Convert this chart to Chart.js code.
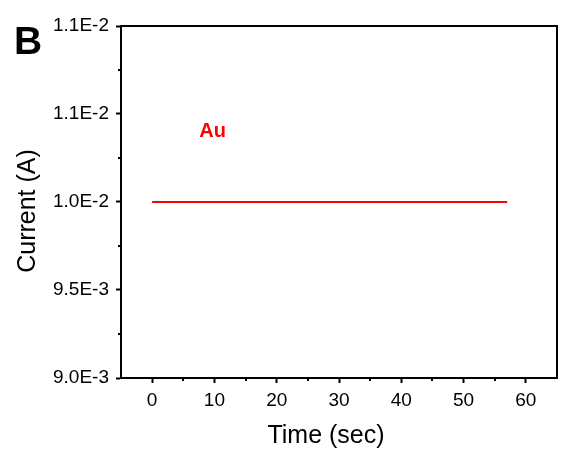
<!DOCTYPE html>
<html>
<head>
<meta charset="utf-8">
<script src="https://cdn.jsdelivr.net/npm/chart.js@4/dist/chart.umd.min.js"></script>
<style>
  body { margin: 0; background: #fff; }
  canvas { display: block; }
</style>
</head>
<body>
<canvas id="myChart" width="565" height="455"></canvas>
<script>
// Data
const timeSec = [0, 10, 20, 30, 40, 50, 57];
const currentA = [0.01, 0.01, 0.01, 0.01, 0.01, 0.01, 0.01];

// Axis ticks
const xTickValues = [0, 10, 20, 30, 40, 50, 60];
const xMinorTicks = [5, 15, 25, 35, 45, 55];
const yTickValues = [0.009, 0.0095, 0.01, 0.0105, 0.011];
const yTickLabels = ['9.0E-3', '9.5E-3', '1.0E-2', '1.1E-2', '1.1E-2'];
const yMinorTicks = [0.00925, 0.00975, 0.01025, 0.01075];

// Text label inside the plot
const seriesLabel = 'Au';
const seriesLabelX = 9.7;
const seriesLabelY = 0.0104;

const fontFamily = '"Liberation Sans", Arial, sans-serif';
Chart.defaults.font.family = fontFamily;
Chart.defaults.color = '#000';

// Frame, minor ticks, titles and labels
const extrasPlugin = {
  id: 'extras',
  afterDraw(chart) {
    const ctx = chart.ctx;
    const area = chart.chartArea;
    const xs = chart.scales.x;
    const ys = chart.scales.y;
    ctx.save();

    // top and right frame
    ctx.strokeStyle = '#000';
    ctx.lineWidth = 2;
    ctx.beginPath();
    ctx.moveTo(area.left - 1, area.top);
    ctx.lineTo(area.right, area.top);
    ctx.lineTo(area.right, area.bottom + 1);
    ctx.stroke();

    // minor ticks
    ctx.lineWidth = 2;
    ctx.beginPath();
    xMinorTicks.forEach(v => {
      const px = Math.round(xs.getPixelForValue(v));
      ctx.moveTo(px, area.bottom);
      ctx.lineTo(px, area.bottom + 3);
    });
    yMinorTicks.forEach(v => {
      const py = Math.round(ys.getPixelForValue(v));
      ctx.moveTo(area.left, py);
      ctx.lineTo(area.left - 3, py);
    });
    ctx.stroke();

    // axis titles
    ctx.fillStyle = '#000';
    ctx.font = '25px ' + fontFamily;
    ctx.textAlign = 'center';
    ctx.textBaseline = 'middle';
    ctx.fillText('Time (sec)', 326, 436);
    ctx.save();
    ctx.translate(28, 211);
    ctx.rotate(-Math.PI / 2);
    ctx.fillText('Current (A)', 0, 0);
    ctx.restore();

    // panel letter
    ctx.font = 'bold 39px ' + fontFamily;
    ctx.textAlign = 'left';
    ctx.fillText('B', 14, 43);

    // series label
    ctx.fillStyle = '#ff0000';
    ctx.font = 'bold 20px ' + fontFamily;
    ctx.textAlign = 'center';
    ctx.fillText(seriesLabel, xs.getPixelForValue(seriesLabelX), ys.getPixelForValue(seriesLabelY));

    ctx.restore();
  }
};

const canvas = document.getElementById('myChart');

const chartData = {
  datasets: [
    {
      label: 'Au',
      data: timeSec.map((t, i) => ({ x: t, y: currentA[i] })),
      borderColor: '#ff0000',
      backgroundColor: '#ff0000',
      borderWidth: 2,
      pointRadius: 0,
      fill: false
    }
  ]
};

const chartOptions = {
  responsive: false,
  animation: false,
  layout: { padding: { left: 0, right: 8, top: 26, bottom: 0 } },
  plugins: {
    legend: { display: false },
    tooltip: { enabled: false }
  },
  scales: {
    x: {
      type: 'linear',
      min: -5,
      max: 65,
      afterBuildTicks: scale => { scale.ticks = xTickValues.map(v => ({ value: v })); },
      afterFit: scale => { scale.height = 77; },
      ticks: {
        autoSkip: false,
        maxRotation: 0,
        padding: 6,
        font: { size: 19 },
        color: '#000'
      },
      grid: {
        drawOnChartArea: false,
        drawTicks: true,
        tickLength: 5,
        tickWidth: 2,
        tickColor: '#000'
      },
      border: { display: true, color: '#000', width: 2 }
    },
    y: {
      type: 'linear',
      min: 0.009,
      max: 0.011,
      afterBuildTicks: scale => { scale.ticks = yTickValues.map(v => ({ value: v })); },
      afterFit: scale => { scale.width = 121; },
      ticks: {
        autoSkip: false,
        padding: 7,
        font: { size: 19 },
        color: '#000',
        callback: (value, index) => yTickLabels[index]
      },
      grid: {
        drawOnChartArea: false,
        drawTicks: true,
        tickLength: 5,
        tickWidth: 2,
        tickColor: '#000'
      },
      border: { display: true, color: '#000', width: 2 }
    }
  }
};

const lineChart = new Chart(canvas, {
  type: 'line',
  data: chartData,
  options: chartOptions,
  plugins: [extrasPlugin]
});
</script>
</body>
</html>
